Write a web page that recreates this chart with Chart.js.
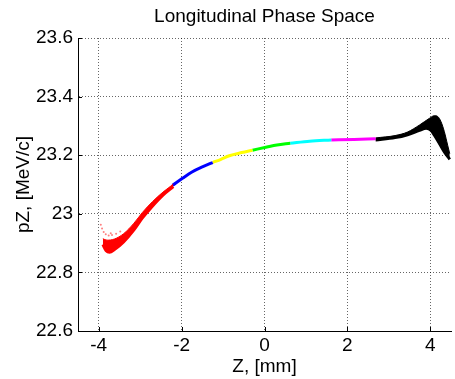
<!DOCTYPE html>
<html>
<head>
<meta charset="utf-8">
<script src="https://cdn.jsdelivr.net/npm/chart.js@4"></script>
<style>
  html, body { margin: 0; padding: 0; background: #fff; }
  canvas { display: block; }
</style>
</head>
<body>
<canvas id="phaseChart" width="455" height="379"></canvas>
<script>
const zTicks = [-4, -2, 0, 2, 4];
const pzTicks = [22.6, 22.8, 23.0, 23.2, 23.4, 23.6];

// [z (mm), pZ (MeV/c)] -- slices of the bunch, coloured as plotted
const redLower = [[-3.90, 22.895], [-3.82, 22.874], [-3.74, 22.869], [-3.62, 22.878], [-3.40, 22.904],
                  [-3.15, 22.945], [-2.95, 22.985], [-2.70, 23.027], [-2.45, 23.064], [-2.20, 23.093]];
const redUpper = [[-3.90, 22.915], [-3.80, 22.910], [-3.62, 22.914], [-3.40, 22.932], [-3.15, 22.968],
                  [-2.95, 23.004], [-2.70, 23.042], [-2.45, 23.074], [-2.20, 23.101]];
// loose particles above the head
const redSparse = [[-3.95, 22.963], [-3.92, 22.950], [-3.88, 22.938], [-3.83, 22.930], [-3.76, 22.926],
                   [-3.68, 22.928], [-3.58, 22.932], [-3.48, 22.940], [-3.71, 22.934]];
const blueLine = [[-2.22, 23.097], [-1.98, 23.121], [-1.76, 23.142], [-1.50, 23.160], [-1.25, 23.175]];
const yellowLine = [[-1.25, 23.175], [-1.05, 23.186], [-0.85, 23.198], [-0.55, 23.209], [-0.29, 23.217]];
const greenLine = [[-0.29, 23.217], [0.06, 23.228], [0.30, 23.235], [0.62, 23.241]];
const cyanLine = [[0.62, 23.241], [1.09, 23.248], [1.61, 23.252]];
const magentaLine = [[1.61, 23.252], [2.16, 23.254], [2.68, 23.256]];
const blackLower = [[2.68, 23.252], [3.15, 23.260], [3.45, 23.270], [3.74, 23.285], [3.90, 23.292],
                    [4.02, 23.285], [4.10, 23.268], [4.22, 23.240], [4.34, 23.211], [4.47, 23.186]];
const blackUpper = [[2.68, 23.259], [3.15, 23.267], [3.45, 23.279], [3.74, 23.303], [3.98, 23.326],
                    [4.10, 23.335], [4.18, 23.332], [4.26, 23.314], [4.34, 23.280], [4.42, 23.234], [4.47, 23.205]];

const pts = arr => arr.map(([x, y]) => ({ x, y }));

function slice(data, color, fill) {
  return {
    data: pts(data),
    borderColor: color,
    backgroundColor: color,
    borderWidth: fill ? 1 : 3,
    pointRadius: 0,
    cubicInterpolationMode: 'monotone',
    fill: fill || false
  };
}

// centre the title over the plot area rather than the canvas
const titleOverPlot = {
  id: 'titleOverPlot',
  afterLayout(chart) {
    const t = chart.titleBlock;
    if (t) { t.left = chart.chartArea.left; t.right = chart.chartArea.right; }
  }
};

// short inward tick marks on the left and bottom axes
const innerTicks = {
  id: 'innerTicks',
  afterDatasetsDraw(chart) {
    const { ctx, chartArea: a, scales: { x, y } } = chart;
    ctx.save();
    ctx.strokeStyle = '#000';
    ctx.lineWidth = 1;
    ctx.beginPath();
    zTicks.forEach(v => {
      const px = Math.round(x.getPixelForValue(v)) + 0.5;
      ctx.moveTo(px, a.bottom); ctx.lineTo(px, a.bottom - 4);
    });
    pzTicks.forEach(v => {
      const py = Math.round(y.getPixelForValue(v)) + 0.5;
      ctx.moveTo(a.left, py); ctx.lineTo(a.left + 4, py);
    });
    ctx.stroke();
    ctx.restore();
  }
};

const font = { family: '"Liberation Sans", Arial, sans-serif', size: 19 };

new Chart(document.getElementById('phaseChart'), {
  type: 'line',
  data: {
    datasets: [
      slice(redLower, '#ff0000'),
      slice(redUpper, '#ff0000', '-1'),
      {
        data: pts(redSparse),
        showLine: false,
        pointRadius: 1,
        pointBorderWidth: 0,
        pointBackgroundColor: 'rgba(255,0,0,0.5)'
      },
      slice(blueLine, '#0000ff'),
      slice(yellowLine, '#ffff00'),
      slice(greenLine, '#00ff00'),
      slice(cyanLine, '#00ffff'),
      slice(magentaLine, '#ff00ff'),
      slice(blackLower, '#000000'),
      slice(blackUpper, '#000000', '-1')
    ]
  },
  options: {
    responsive: false,
    animation: false,
    devicePixelRatio: 1,
    layout: { padding: 0 },
    plugins: {
      legend: { display: false },
      tooltip: { enabled: false },
      title: {
        display: true,
        text: 'Longitudinal Phase Space',
        color: '#000',
        font: { ...font, weight: 'normal' },
        padding: { top: 5.6, bottom: 9.6 }
      }
    },
    scales: {
      x: {
        type: 'linear',
        min: -4.5,
        max: 4.5,
        afterBuildTicks: axis => { axis.ticks = zTicks.map(value => ({ value })); },
        afterFit: axis => { axis.height = 48; },
        ticks: { color: '#000', font, padding: 3, callback: v => String(v) },
        grid: { color: 'rgba(0,0,0,0.6)', drawTicks: false, lineWidth: 1 },
        border: { display: true, color: '#000', width: 1, dash: [1, 2] },
        title: { display: true, text: 'Z, [mm]', color: '#000', font, padding: { top: 0, bottom: 1 } }
      },
      y: {
        min: 22.6,
        max: 23.6,
        afterBuildTicks: axis => { axis.ticks = pzTicks.map(value => ({ value })); },
        afterFit: axis => { axis.width = 78; },
        ticks: { color: '#000', font, padding: 5, callback: v => String(+v.toFixed(1)) },
        grid: { color: 'rgba(0,0,0,0.6)', drawTicks: false, lineWidth: 1 },
        border: { display: true, color: '#000', width: 1, dash: [1, 2] },
        title: { display: true, text: 'pZ, [MeV/c]', color: '#000', font, padding: { top: 12.6, bottom: 0 } }
      }
    }
  },
  plugins: [titleOverPlot, innerTicks]
});
</script>
</body>
</html>
